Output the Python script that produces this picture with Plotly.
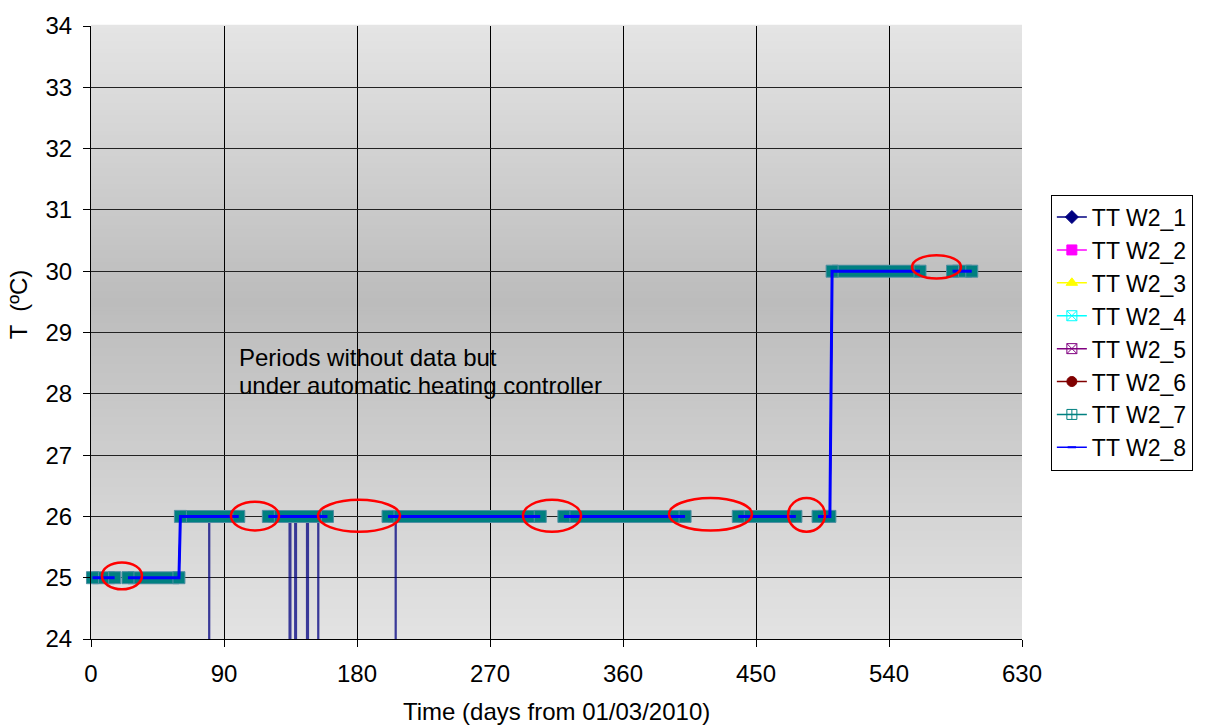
import plotly.graph_objects as go

# ---------------- data ----------------
# continuous logging runs: start day, end day, temperature (ºC)
run_start = [1, 25, 60.5, 120, 201, 320, 438, 492, 501.5, 583]
run_end = [16, 59.5, 100, 160, 304, 402, 477, 500, 561, 596]
run_temp = [25, 25, 26, 26, 26, 26, 26, 26, 30, 30]
# whether the run is directly followed by the next one (set-point change)
run_joined = [False, True, False, False, False, False, False, True, False, False]

# sensor drop-outs of TT W2_1 (reading falls far below the axis)
dip_down_day = [79.8, 134.2, 138.0, 146.0, 153.6, 206.0]
dip_up_day = [80.2, 135.1, 138.9, 147.0, 154.0, 206.4]
dip_base_temp = [26, 26, 26, 26, 26, 26]
dip_low_temp = 0.0

# periods without data (ellipses): day range and temperature range
gap_day0 = [7.4, 94.7, 153.6, 292.3, 391.1, 471.7, 555.6]
gap_day1 = [34.5, 127.2, 209.1, 331.6, 447.3, 496.7, 588.7]
gap_t0 = [24.81, 25.77, 25.75, 25.75, 25.77, 25.75, 29.88]
gap_t1 = [25.25, 26.24, 26.27, 26.27, 26.30, 26.30, 30.26]

series_names = ["TT W2_1", "TT W2_2", "TT W2_3", "TT W2_4",
                "TT W2_5", "TT W2_6", "TT W2_7", "TT W2_8"]
series_colors = ["#000080", "#ff00ff", "#ffff00", "#00ffff",
                 "#800080", "#800000", "#008080", "#0000ff"]
series_symbols = ["diamond", "square", "triangle-up", "square-x-open",
                  "square-x-open", "circle", "square-cross-open", "line-ew-open"]

x_ticks = [0, 90, 180, 270, 360, 450, 540, 630]
y_ticks = [24, 25, 26, 27, 28, 29, 30, 31, 32, 33, 34]

note_lines = ["Periods without data but", "under automatic heating controller"]

FONT = "Liberation Sans, Arial, sans-serif"
FS = 24

# ---------------- build line data ----------------
line_x, line_y = [], []
band_x, band_y = [], []
for s, e, t, j in zip(run_start, run_end, run_temp, run_joined):
    line_x += [s, e]
    line_y += [t, t]
    if not j:
        line_x.append(None)
        line_y.append(None)
    band_x += [s, e, None]
    band_y += [t, t, None]

dip_x, dip_y = [], []
for d, u, b in zip(dip_down_day, dip_up_day, dip_base_temp):
    dip_x += [d, d, u, u, None]
    dip_y += [b, dip_low_temp, dip_low_temp, b, None]

fig = go.Figure()

# background gradient (light - dark - light)
N = 150
for i in range(N):
    f = (i + 0.5) / N  # fraction from top
    peak = 0.45
    if f <= peak:
        v = 229 - (229 - 188) * (f / peak)
    else:
        v = 188 + (227 - 188) * ((f - peak) / (1 - peak))
    v = int(round(v))
    fig.add_shape(type="rect", xref="paper", yref="paper",
                  x0=0, x1=1, y0=1 - (i + 1) / N, y1=1 - i / N + 0.002,
                  line=dict(width=0), fillcolor=f"rgb({v},{v},{v})",
                  layer="below")

# sensors 1..6 (hidden underneath the TT W2_7 band)
for k in range(6):
    fig.add_trace(go.Scatter(x=line_x, y=line_y, mode="lines",
                             line=dict(color=series_colors[k], width=1.5),
                             showlegend=False, hoverinfo="skip"))
# TT W2_1 drop-outs
fig.add_trace(go.Scatter(x=dip_x, y=dip_y, mode="lines",
                         line=dict(color="rgba(0,0,128,0.75)", width=1.7),
                         showlegend=False, hoverinfo="skip"))
# TT W2_7: dense markers form a band
fig.add_trace(go.Scatter(x=band_x, y=band_y, mode="lines",
                         line=dict(color="#4f8fa3", width=13),
                         showlegend=False, hoverinfo="skip"))
fig.add_trace(go.Scatter(x=band_x, y=band_y, mode="lines+markers",
                         line=dict(color="#008080", width=11), cliponaxis=False,
                         marker=dict(symbol="square", size=12, color="#008080",
                                     line=dict(color="#4f8fa3", width=1)),
                         showlegend=False, hoverinfo="skip"))
# TT W2_8 on top
fig.add_trace(go.Scatter(x=line_x, y=line_y, mode="lines",
                         line=dict(color="#0000ff", width=3),
                         showlegend=False, hoverinfo="skip"))

# legend entries
for name, col, sym in zip(series_names, series_colors, series_symbols):
    size = 10
    mline = dict(color=col, width=1)
    if sym == "line-ew-open":
        size = 6
        mline = dict(color=col, width=2)
    fig.add_trace(go.Scatter(x=[None], y=[None], mode="lines+markers", name=name,
                             line=dict(color=col, width=1.5),
                             marker=dict(symbol=sym, size=size, color=col, line=mline)))

# ellipses
for a0, a1, b0, b1 in zip(gap_day0, gap_day1, gap_t0, gap_t1):
    fig.add_shape(type="circle", xref="x", yref="y", x0=a0, x1=a1, y0=b0, y1=b1,
                  line=dict(color="#ff0000", width=2.5), layer="above")

for line, yy in zip(note_lines, [0.4587, 0.4133]):
    fig.add_annotation(text=line, xref="paper", yref="paper", x=0.1568, y=yy,
                       xanchor="left", yanchor="middle", align="left", showarrow=False,
                       font=dict(family=FONT, size=FS, color="black"))
fig.add_annotation(text="T  (ºC)", xref="paper", yref="paper", x=-0.0784, y=0.546,
                   xanchor="center", yanchor="middle", textangle=-90, showarrow=False,
                   font=dict(family=FONT, size=FS, color="black"))
fig.add_annotation(text="Time (days from 01/03/2010)", xref="paper", yref="paper",
                   x=0.5, y=-0.118, xanchor="center", yanchor="middle", showarrow=False,
                   font=dict(family=FONT, size=FS, color="black"))

fig.update_layout(
    width=1209, height=726,
    margin=dict(l=91, r=187, t=20, b=87),
    paper_bgcolor="white", plot_bgcolor="#d8d8d8",
    font=dict(family=FONT, size=FS, color="black"),
    showlegend=True,
    legend=dict(x=1.031, y=0.725, xanchor="left", yanchor="top",
                bgcolor="white", bordercolor="black", borderwidth=1,
                font=dict(family=FONT, size=23, color="black"),
                itemclick=False, itemdoubleclick=False),
    xaxis=dict(range=[0, 630], tickvals=x_ticks, ticktext=[str(v) for v in x_ticks],
               showgrid=True, gridcolor="black", gridwidth=1, zeroline=False,
               showline=True, linecolor="black", linewidth=1,
               ticks="outside", ticklen=7, tickcolor="black",
               ticklabelstandoff=6,
               tickfont=dict(family=FONT, size=FS)),
    yaxis=dict(range=[24, 34], tickvals=y_ticks, ticktext=[str(v) for v in y_ticks],
               showgrid=True, gridcolor="#222222", gridwidth=1, zeroline=False,
               showline=True, linecolor="black", linewidth=1,
               ticks="outside", ticklen=7, tickcolor="black",
               ticklabelstandoff=6,
               tickfont=dict(family=FONT, size=FS)),
)

fig.write_html("out.html", config={"displayModeBar": False},
               post_script="document.body.style.margin='0';document.body.style.overflow='hidden';")
